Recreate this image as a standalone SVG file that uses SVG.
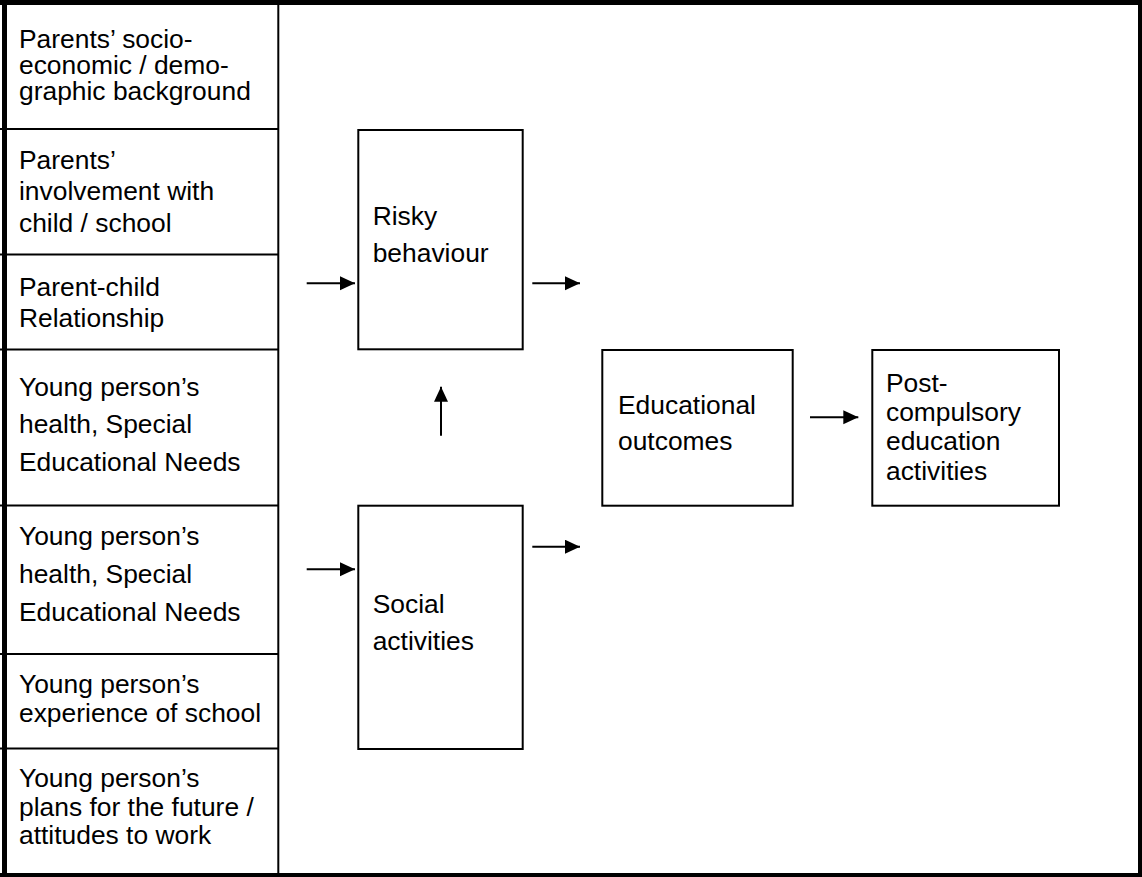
<svg xmlns="http://www.w3.org/2000/svg" width="1142" height="877" viewBox="0 0 1142 877">
<style>
  .t { font-family: "Liberation Sans", Arial, sans-serif; font-size: 26.4px; fill: #000; }
  .box { fill: #fff; stroke: #000; stroke-width: 2; }
  .rule { stroke: #000; stroke-width: 2; fill: none; }
  .conn { stroke: #000; stroke-width: 2; fill: none; }
  .head { fill: #000; }
</style>
<defs>
  <marker id="arr" markerUnits="userSpaceOnUse" markerWidth="16" markerHeight="16" refX="15" refY="7" orient="auto">
    <path class="head" d="M0,0 L15,7 L0,14 Z"/>
  </marker>
</defs>
<rect x="0" y="0" width="1142" height="877" fill="#fff"/>
<g id="frame">
  <rect x="0" y="0" width="1142" height="5" fill="#000"/>
  <rect x="0" y="873" width="1142" height="4" fill="#000"/>
  <rect x="2" y="0" width="5" height="877" fill="#000"/>
  <rect x="1138" y="0" width="4" height="877" fill="#000"/>
  <line class="rule" x1="278.3" y1="0" x2="278.3" y2="877"/>
  <line class="rule" x1="0" y1="129" x2="279" y2="129"/>
  <line class="rule" x1="0" y1="254.5" x2="279" y2="254.5"/>
  <line class="rule" x1="0" y1="349.5" x2="279" y2="349.5"/>
  <line class="rule" x1="0" y1="505.5" x2="279" y2="505.5"/>
  <line class="rule" x1="0" y1="654" x2="279" y2="654"/>
  <line class="rule" x1="0" y1="748.5" x2="279" y2="748.5"/>
</g>
<g id="row1">
  <text class="t" x="19" y="48">Parents’ socio-</text>
  <text class="t" x="19" y="74">economic / demo-</text>
  <text class="t" x="19" y="99.5">graphic background</text>
</g>
<g id="row2">
  <text class="t" x="19" y="168.5">Parents’</text>
  <text class="t" x="19" y="200">involvement with</text>
  <text class="t" x="19" y="231.5">child / school</text>
</g>
<g id="row3">
  <text class="t" x="19" y="295.5">Parent-child</text>
  <text class="t" x="19" y="326.5">Relationship</text>
</g>
<g id="row4">
  <text class="t" x="19" y="395.7">Young person’s</text>
  <text class="t" x="19" y="433.3">health, Special</text>
  <text class="t" x="19" y="470.7">Educational Needs</text>
</g>
<g id="row5">
  <text class="t" x="19" y="545">Young person’s</text>
  <text class="t" x="19" y="582.7">health, Special</text>
  <text class="t" x="19" y="620.5">Educational Needs</text>
</g>
<g id="row6">
  <text class="t" x="19" y="693.3">Young person’s</text>
  <text class="t" x="19" y="722">experience of school</text>
</g>
<g id="row7">
  <text class="t" x="19" y="787.3">Young person’s</text>
  <text class="t" x="19" y="815.7">plans for the future /</text>
  <text class="t" x="19" y="843.5">attitudes to work</text>
</g>
<g id="risky">
  <rect class="box" x="358.3" y="130" width="164.4" height="219.3"/>
  <text class="t" x="372.7" y="224.5">Risky</text>
  <text class="t" x="372.7" y="261.5">behaviour</text>
</g>
<g id="social">
  <rect class="box" x="358.3" y="505.7" width="164.4" height="243.3"/>
  <text class="t" x="372.7" y="612.7">Social</text>
  <text class="t" x="372.7" y="650">activities</text>
</g>
<g id="educational">
  <rect class="box" x="602.3" y="350" width="190.4" height="155.7"/>
  <text class="t" x="618" y="414">Educational</text>
  <text class="t" x="618" y="450">outcomes</text>
</g>
<g id="post">
  <rect class="box" x="872.3" y="350" width="186.7" height="155.7"/>
  <text class="t" x="886" y="391.7">Post-</text>
  <text class="t" x="886" y="420.5">compulsory</text>
  <text class="t" x="886" y="450">education</text>
  <text class="t" x="886" y="480">activities</text>
</g>
<g id="connectors">
  <line class="conn" x1="306.7" y1="283.3" x2="355" y2="283.3" marker-end="url(#arr)"/>
  <line class="conn" x1="532.3" y1="283.3" x2="580" y2="283.3" marker-end="url(#arr)"/>
  <line class="conn" x1="441" y1="435.7" x2="441" y2="386.7" marker-end="url(#arr)"/>
  <line class="conn" x1="306.7" y1="569.3" x2="355" y2="569.3" marker-end="url(#arr)"/>
  <line class="conn" x1="532.3" y1="546.7" x2="580" y2="546.7" marker-end="url(#arr)"/>
  <line class="conn" x1="810" y1="417.3" x2="858.3" y2="417.3" marker-end="url(#arr)"/>
</g>
</svg>
